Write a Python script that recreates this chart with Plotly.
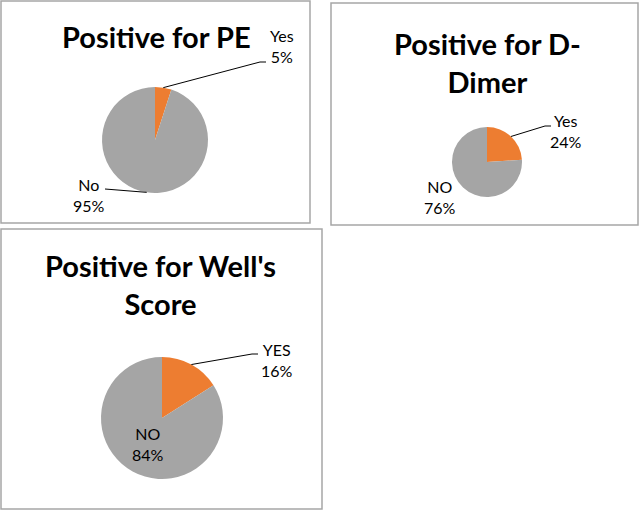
import math
import plotly.graph_objects as go

W, H = 642, 511

# ---- data ----
titles = ["Positive for PE", "Positive for D-<br>Dimer", "Positive for Well's<br>Score"]
labels_pe = ["Yes", "No"]
values_pe = [5, 95]
labels_dd = ["Yes", "NO"]
values_dd = [24, 76]
labels_ws = ["YES", "NO"]
values_ws = [16, 84]

colors = ["#ED7D31", "#A5A5A5"]

def px(x):
    return x / W

def py(y):
    return 1 - y / H

# layout per panel: box, pie centre & radius, title position, label positions
panels = [
    dict(labels=labels_pe, values=values_pe, title=titles[0],
         box=(1, 1, 310, 223), c=(155, 140), r=53, t=(156, 36),
         lab=[(282, 46), (89, 195)],
         lead=[(260, 62), (105, 189)]),
    dict(labels=labels_dd, values=values_dd, title=titles[1],
         box=(331, 3, 638, 225), c=(487, 162), r=35, t=(487, 62),
         lab=[(566, 131), (440, 197)],
         lead=[(545, 126), None]),
    dict(labels=labels_ws, values=values_ws, title=titles[2],
         box=(1, 229, 322, 509), c=(162, 418), r=61, t=(160, 284),
         lab=[(277, 360), (148, 444)],
         lead=[(252, 354), None]),
]

fig = go.Figure()
shapes = []
annotations = []

for p in panels:
    cx, cy = p["c"]
    r = p["r"]
    fig.add_trace(go.Pie(
        labels=p["labels"], values=p["values"],
        marker=dict(colors=colors, line=dict(width=0)),
        sort=False, direction="clockwise", rotation=0,
        textinfo="none", hoverinfo="label+percent", showlegend=False,
        domain=dict(x=[px(cx - r), px(cx + r)], y=[py(cy + r), py(cy - r)]),
    ))
    x0, y0, x1, y1 = p["box"]
    shapes.append(dict(type="rect", xref="paper", yref="paper",
                       x0=px(x0), x1=px(x1), y0=py(y1), y1=py(y0),
                       line=dict(color="#A6A6A6", width=1.5)))
    annotations.append(dict(text="<b>" + p["title"] + "</b>", x=px(p["t"][0]), y=py(p["t"][1]),
                            xref="paper", yref="paper", showarrow=False,
                            font=dict(size=29, color="#000000", family="Lato"),
                            xanchor="center", yanchor="middle"))
    total = sum(p["values"])
    cum = 0
    for i, (lab, val) in enumerate(zip(p["labels"], p["values"])):
        mid = (cum + val / 2) / total * 2 * math.pi
        cum += val
        pct = round(val / total * 100)
        lx, ly = p["lab"][i]
        annotations.append(dict(text=f"{lab}<br>{pct}%", x=px(lx), y=py(ly),
                                xref="paper", yref="paper", showarrow=False,
                                font=dict(size=16, color="#000000", family="Lato"),
                                align="center", xanchor="center", yanchor="middle"))
        end = p["lead"][i]
        if end is not None:
            sx = cx + r * math.sin(mid)
            sy = cy - r * math.cos(mid)
            shapes.append(dict(type="line", xref="paper", yref="paper",
                               x0=px(sx), y0=py(sy), x1=px(end[0]), y1=py(end[1]),
                               line=dict(color="#000000", width=1)))
            if i == 0:
                shapes.append(dict(type="line", xref="paper", yref="paper",
                                   x0=px(end[0]), y0=py(end[1]), x1=px(end[0] + 6), y1=py(end[1]),
                                   line=dict(color="#000000", width=1)))

fig.update_layout(width=W, height=H, margin=dict(l=0, r=0, t=0, b=0),
                  paper_bgcolor="white", plot_bgcolor="white",
                  shapes=shapes, annotations=annotations)
fig.write_html("out.html", config={"displayModeBar": False},
               post_script="document.body.style.margin='0';document.body.style.padding='0';")
